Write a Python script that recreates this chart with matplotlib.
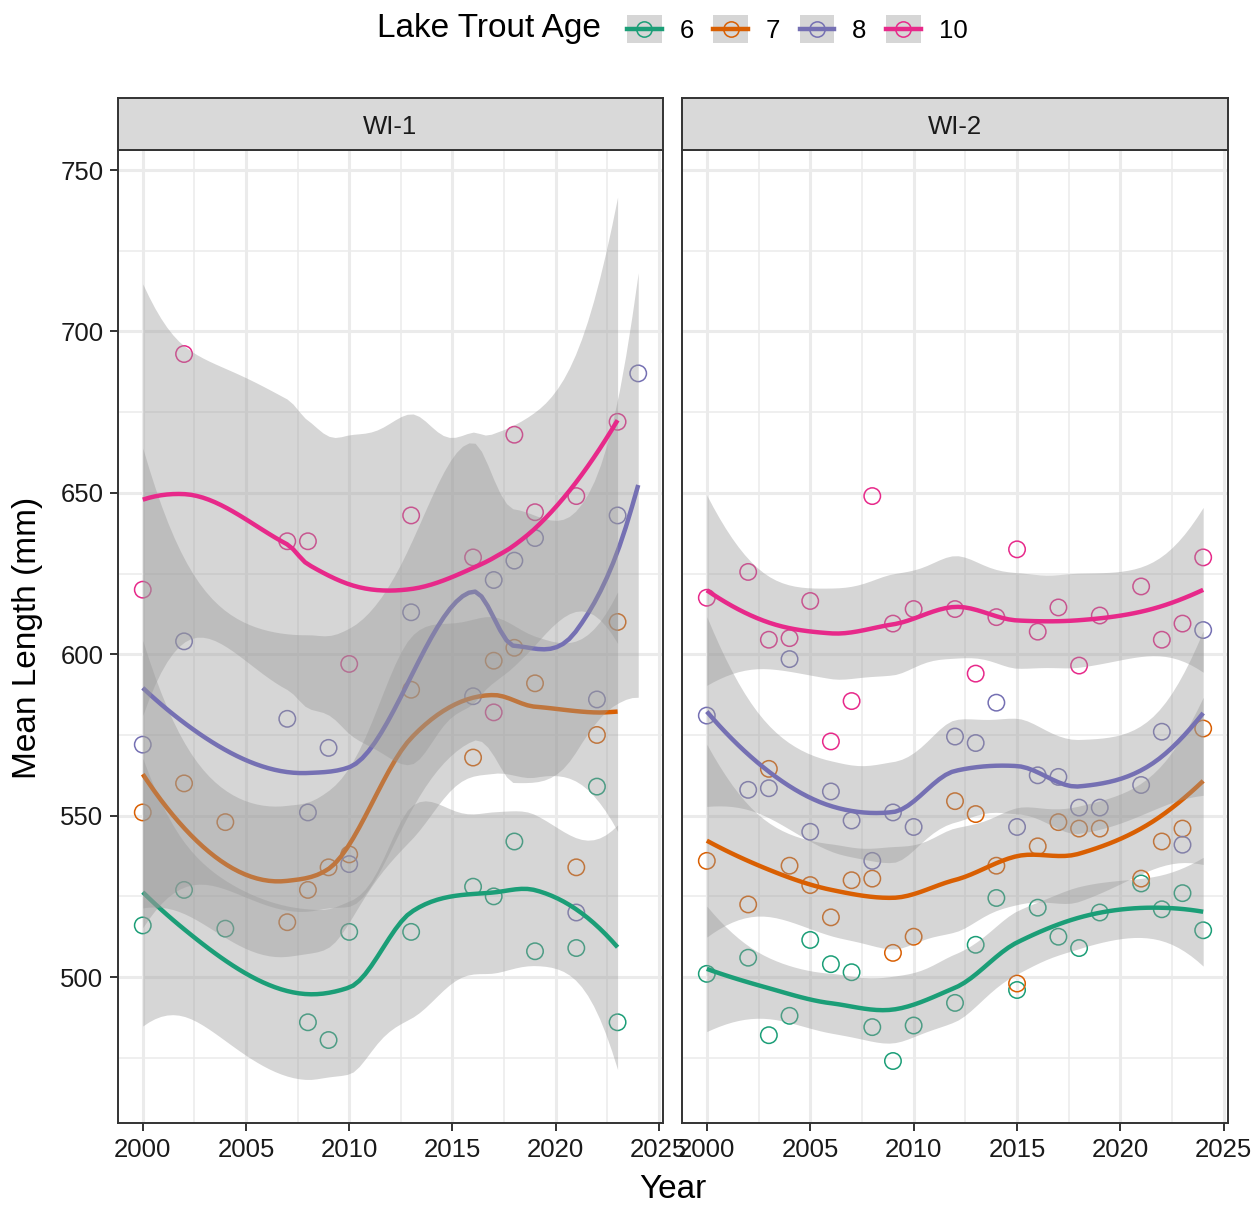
import numpy as np
import matplotlib.pyplot as plt
from matplotlib.lines import Line2D
from matplotlib.patches import Rectangle
from matplotlib.ticker import MultipleLocator

plt.rcParams['font.family'] = ['Liberation Sans', 'DejaVu Sans']

ages = ['6', '7', '8', '10']
colors = ['#1B9E77', '#D95F02', '#7570B3', '#E7298A']
sites = ['WI-1', 'WI-2']

# WI-1 (mean length in mm by year)
wi1_age6_year = [2000, 2002, 2004, 2008, 2009, 2010, 2013, 2016, 2017, 2018, 2019, 2021, 2022, 2023]
wi1_age6_len = [516, 527, 515, 486, 480.5, 514, 514, 528, 525, 542, 508, 509, 559, 486]
wi1_age7_year = [2000, 2002, 2004, 2007, 2008, 2009, 2010, 2013, 2016, 2017, 2018, 2019, 2021, 2022, 2023]
wi1_age7_len = [551, 560, 548, 517, 527, 534, 538, 589, 568, 598, 602, 591, 534, 575, 610]
wi1_age8_year = [2000, 2002, 2007, 2008, 2009, 2010, 2013, 2016, 2017, 2018, 2019, 2021, 2022, 2023, 2024]
wi1_age8_len = [572, 604, 580, 551, 571, 535, 613, 587, 623, 629, 636, 520, 586, 643, 687]
wi1_age10_year = [2000, 2002, 2007, 2008, 2010, 2013, 2016, 2017, 2018, 2019, 2021, 2023]
wi1_age10_len = [620, 693, 635, 635, 597, 643, 630, 582, 668, 644, 649, 672]

# WI-2
wi2_year = [2000, 2002, 2003, 2004, 2005, 2006, 2007, 2008, 2009, 2010, 2012,
            2013, 2014, 2015, 2016, 2017, 2018, 2019, 2021, 2022, 2023, 2024]
wi2_age6_len = [501, 506, 482, 488, 511.5, 504, 501.5, 484.5, 474, 485, 492,
                510, 524.5, 496, 521.5, 512.5, 509, 520, 529, 521, 526, 514.5]
wi2_age7_len = [536, 522.5, 564.5, 534.5, 528.5, 518.5, 530, 530.5, 507.5, 512.5, 554.5,
                550.5, 534.5, 498, 540.5, 548, 546, 546, 530.5, 542, 546, 577]
wi2_age8_len = [581, 558, 558.5, 598.5, 545, 557.5, 548.5, 536, 551, 546.5, 574.5,
                572.5, 585, 546.5, 562.5, 562, 552.5, 552.5, 559.5, 576, 541, 607.5]
wi2_age10_len = [617.5, 625.5, 604.5, 605, 616.5, 573, 585.5, 649, 609.5, 614, 614,
                 594, 611.5, 632.5, 607, 614.5, 596.5, 612, 621, 604.5, 609.5, 630]

series = {
    'WI-1': [(wi1_age6_year, wi1_age6_len), (wi1_age7_year, wi1_age7_len),
             (wi1_age8_year, wi1_age8_len), (wi1_age10_year, wi1_age10_len)],
    'WI-2': [(wi2_year, wi2_age6_len), (wi2_year, wi2_age7_len),
             (wi2_year, wi2_age8_len), (wi2_year, wi2_age10_len)],
}


def t975(df):
    # Cornish-Fisher expansion of the t quantile (0.975)
    z = 1.959963985
    g1 = (z**3 + z) / 4
    g2 = (5*z**5 + 16*z**3 + 3*z) / 96
    g3 = (3*z**7 + 19*z**5 + 17*z**3 - 15*z) / 384
    g4 = (79*z**9 + 776*z**7 + 1482*z**5 - 1920*z**3 - 945*z) / 92160
    return z + g1/df + g2/df**2 + g3/df**3 + g4/df**4


def local_ops(x, x0, q):
    # local quadratic, tricube weights -> rows giving value and slope at x0
    d = np.abs(x - x0)
    h = np.sort(d)[q - 1]
    w = (1 - np.clip(d / h, 0, 1)**3)**3
    X = np.vander(x - x0, 3, increasing=True)
    sw = np.sqrt(w)
    ops = np.linalg.pinv(X * sw[:, None]) * sw[None, :]
    return ops[0], ops[1]


def kd_vertices(x, fc):
    xs = np.sort(x)
    n = len(xs)
    mu = 0.005 * (xs[-1] - xs[0])
    lo, hi = xs[0] - mu, xs[-1] + mu
    verts = [lo, hi]
    stack = [(0, n - 1, lo, hi)]
    while stack:
        l, u, a, b = stack.pop()
        if u - l + 1 <= fc:
            continue
        m = (l + u + 2) // 2 - 1
        v = xs[m]
        if v == a or v == b:
            continue
        verts.append(v)
        stack.append((l, m, a, v))
        stack.append((m + 1, u, v, b))
    return np.sort(verts)


def loess(x, y, span=0.75, cell=0.2, n_out=80):
    # same as R loess() defaults used by geom_smooth (interpolated surface)
    x = np.asarray(x, float)
    y = np.asarray(y, float)
    n = len(x)
    q = int(np.floor(n * span))
    verts = kd_vertices(x, int(np.floor(n * span * cell)))
    V, S = zip(*[local_ops(x, v, q) for v in verts])
    V, S = np.array(V), np.array(S)

    def rows(z):
        out = []
        for zz in z:
            j = np.searchsorted(verts, zz, side='right') - 1
            j = min(max(j, 0), len(verts) - 2)
            h = verts[j + 1] - verts[j]
            t = (zz - verts[j]) / h
            phi0 = (1 - t)**2 * (1 + 2*t)
            phi1 = t**2 * (3 - 2*t)
            psi0 = t * (1 - t)**2
            psi1 = -t**2 * (1 - t)
            out.append(phi0*V[j] + phi1*V[j + 1] + h*(psi0*S[j] + psi1*S[j + 1]))
        return np.array(out)

    L = rows(x)
    res = y - L @ y
    M = (np.eye(n) - L).T @ (np.eye(n) - L)
    d1 = np.trace(M)
    d2 = np.trace(M @ M)
    s = np.sqrt(np.sum(res**2) / d1)
    grid = np.linspace(x.min(), x.max(), n_out)
    Lg = rows(grid)
    fit = Lg @ y
    ci = t975(d1**2 / d2) * s * np.sqrt(np.sum(Lg**2, axis=1))
    return grid, fit, fit - ci, fit + ci


class KeyHandler:
    # ggplot-style key: grey se box, coloured line and an open circle
    def legend_artist(self, legend, orig_handle, fontsize, handlebox):
        x0, y0 = -handlebox.xdescent, -handlebox.ydescent
        w, h = handlebox.width, handlebox.height
        c = orig_handle.get_color()
        tr = handlebox.get_transform()
        box = Rectangle((x0, y0), w, h, facecolor='#D6D6D6', edgecolor='none', transform=tr)
        line = Line2D([x0, x0 + w], [y0 + h / 2] * 2, color=c, lw=3.2, transform=tr)
        dot = Line2D([x0 + w / 2], [y0 + h / 2], marker='o', ms=11, mfc='none',
                     mec=c, mew=1.1, transform=tr)
        for a in (box, line, dot):
            handlebox.add_artist(a)
        return box


W, H = 1257, 1205
fig = plt.figure(figsize=(W / 100, H / 100), dpi=100)
panel_x = [(118, 545), (682, 546)]

for k, site in enumerate(sites):
    px, pw = panel_x[k]
    ax = fig.add_axes([px / W, 1 - 1123 / H, pw / W, 973 / H])
    ax.set_axisbelow(True)
    for (yr, ln), c in zip(series[site], colors):
        ax.scatter(yr, ln, s=140, facecolors='none', edgecolors=c, linewidths=1.1, zorder=2)
    for (yr, ln), c in zip(series[site], colors):
        g, f, lo, hi = loess(yr, ln)
        ax.fill_between(g, lo, hi, color='#999999', alpha=0.4, lw=0, zorder=3)
        ax.plot(g, f, color=c, lw=3.2, zorder=3, solid_capstyle='butt')

    ax.set_xlim(1998.8, 2025.2)
    ax.set_ylim(454.8, 756.2)
    ax.xaxis.set_major_locator(MultipleLocator(5))
    ax.xaxis.set_minor_locator(MultipleLocator(2.5))
    ax.yaxis.set_major_locator(MultipleLocator(50))
    ax.yaxis.set_minor_locator(MultipleLocator(25))
    ax.grid(which='major', color='#EBEBEB', lw=2.2)
    ax.grid(which='minor', color='#EBEBEB', lw=1.1)
    ax.tick_params(which='major', length=6, width=1.4, color='#333333',
                   labelsize=18.5, labelcolor='#1A1A1A', pad=4.5)
    ax.tick_params(which='minor', length=0)
    for sp in ax.spines.values():
        sp.set_color('#333333')
        sp.set_linewidth(1.4)
    if k == 1:
        ax.tick_params(axis='y', which='both', left=False, labelleft=False)

    strip = fig.add_axes([px / W, 1 - 150 / H, pw / W, 52 / H])
    strip.set_facecolor('#D9D9D9')
    strip.set_xticks([])
    strip.set_yticks([])
    for sp in strip.spines.values():
        sp.set_color('#333333')
        sp.set_linewidth(1.4)
    strip.text(0.5, 0.45, site, ha='center', va='center', fontsize=18.5,
               color='#1A1A1A', transform=strip.transAxes)

fig.text(673 / W, 1 - 1189 / H, 'Year', ha='center', va='center', fontsize=24)
fig.text(28 / W, 1 - 638 / H, 'Mean Length (mm)', ha='center', va='center',
         fontsize=24, rotation=90)

fig.text(377 / W, 1 - 29 / H, 'Lake Trout Age', ha='left', va='center', fontsize=24)
handles = [Line2D([], [], color=c) for c in colors]
fig.legend(handles, ages, loc='center left', bbox_to_anchor=(627 / W, 1 - 29 / H),
           ncol=4, frameon=False, fontsize=18.5,
           handler_map={Line2D: KeyHandler()},
           handlelength=1.35, handleheight=1.35, handletextpad=0.7,
           columnspacing=0.75, borderpad=0, borderaxespad=0)

fig.savefig('out.png', dpi=100)
